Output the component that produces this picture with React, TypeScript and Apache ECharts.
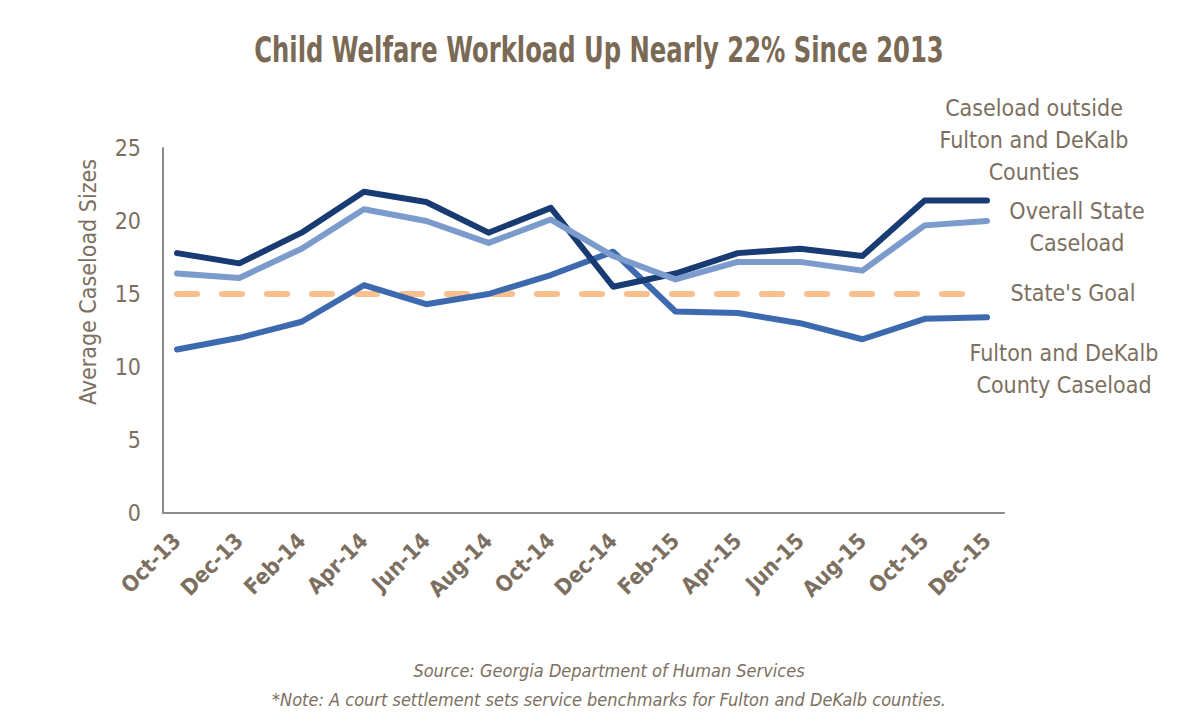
import React, { useEffect, useRef } from "react";
import * as echarts from "echarts";

const categories = ["Oct-13","Dec-13","Feb-14","Apr-14","Jun-14","Aug-14","Oct-14","Dec-14","Feb-15","Apr-15","Jun-15","Aug-15","Oct-15","Dec-15"];
const outsideFultonDeKalb = [17.8, 17.1, 19.2, 22.0, 21.3, 19.2, 20.9, 15.5, 16.4, 17.8, 18.1, 17.6, 21.4, 21.4];
const overallState = [16.4, 16.1, 18.1, 20.8, 20.0, 18.5, 20.1, 17.6, 16.0, 17.2, 17.2, 16.6, 19.7, 20.0];
const fultonDeKalb = [11.2, 12.0, 13.1, 15.6, 14.3, 15.0, 16.3, 17.9, 13.8, 13.7, 13.0, 11.9, 13.3, 13.4];
const stateGoal = [15, 15, 15, 15, 15, 15, 15, 15, 15, 15, 15, 15, 15, 15];
const yTicks = [0, 5, 10, 15, 20, 25];

const FONT = "'DejaVu Sans Condensed', 'Liberation Sans Narrow', 'Roboto', sans-serif";
const TXT = "#7c6f60";

export default function App() {
  const ref = useRef<HTMLDivElement>(null);
  useEffect(() => {
    document.body.style.margin = "0";
    const chart = echarts.init(ref.current!, null, { renderer: "svg" });
    const W = 1194, H = 724;
    const top = 148, bottom = H - 513;
    const lineStyle = (color: string) => ({ color, width: 6, cap: "round", join: "round" });
    const rightLabel = (lines: string[], cx: number, y0: number) =>
      lines.map((t, i) => ({
        type: "text",
        x: cx,
        y: y0 + i * 32,
        style: { text: t, fill: TXT, font: `23px ${FONT}`, textAlign: "center", textVerticalAlign: "middle" },
      }));
    chart.setOption({
      animation: false,
      backgroundColor: "#ffffff",
      textStyle: { fontFamily: FONT },
      grid: [
        { left: 177, right: W - 987, top, bottom },
        { left: 163, right: W - 1004, top, bottom },
      ],
      xAxis: [
        {
          type: "category",
          gridIndex: 0,
          data: categories,
          boundaryGap: false,
          axisLine: { show: false },
          axisTick: { show: false },
          axisLabel: {
            rotate: 45,
            margin: 24,
            color: TXT,
            fontSize: 22,
            fontWeight: "bold",
            fontFamily: FONT,
            interval: 0,
          },
        },
        {
          type: "value",
          gridIndex: 1,
          min: 0,
          max: 1,
          axisLine: { show: true, lineStyle: { color: "#8c8c8c", width: 2 } },
          axisTick: { show: false },
          axisLabel: { show: false },
          splitLine: { show: false },
        },
      ],
      yAxis: [
        {
          type: "value",
          gridIndex: 0,
          min: 0,
          max: 25,
          interval: 5,
          axisLine: { show: false },
          axisTick: { show: false },
          axisLabel: { show: false },
          splitLine: { show: false },
        },
        {
          type: "value",
          gridIndex: 1,
          min: yTicks[0],
          max: yTicks[yTicks.length - 1],
          interval: 5,
          axisLine: { show: true, lineStyle: { color: "#8c8c8c", width: 2 } },
          axisTick: { show: false },
          axisLabel: { color: TXT, fontSize: 23, margin: 22, fontFamily: FONT },
          splitLine: { show: false },
        },
      ],
      series: [
        {
          type: "line",
          name: "State's Goal",
          data: stateGoal,
          symbol: "none",
          lineStyle: { color: "#f9bf8f", width: 6, type: [20, 25], cap: "round" },
          z: 1,
        },
        {
          type: "line",
          name: "Fulton and DeKalb County Caseload",
          data: fultonDeKalb,
          symbol: "none",
          lineStyle: lineStyle("#3d6aae"),
          z: 2,
        },
        {
          type: "line",
          name: "Caseload outside Fulton and DeKalb Counties",
          data: outsideFultonDeKalb,
          symbol: "none",
          lineStyle: lineStyle("#173b72"),
          z: 3,
        },
        {
          type: "line",
          name: "Overall State Caseload",
          data: overallState,
          symbol: "none",
          lineStyle: lineStyle("#7c9bcd"),
          z: 4,
        },
      ],
      graphic: [
        {
          type: "text",
          x: 599,
          y: 50,
          scaleX: 0.75,
          style: {
            text: "Child Welfare Workload Up Nearly 22% Since 2013",
            fill: "#7a6a55",
            font: `bold 36px ${FONT}`,
            textAlign: "center",
            textVerticalAlign: "middle",
          },
        },
        {
          type: "text",
          x: 88,
          y: 282,
          rotation: Math.PI / 2,
          style: {
            text: "Average Caseload Sizes",
            fill: TXT,
            font: `23px ${FONT}`,
            textAlign: "center",
            textVerticalAlign: "middle",
          },
        },
        ...rightLabel(["Caseload outside", "Fulton and DeKalb", "Counties"], 1034, 108),
        ...rightLabel(["Overall State", "Caseload"], 1077, 211),
        ...rightLabel(["State's Goal"], 1073, 293),
        ...rightLabel(["Fulton and DeKalb", "County Caseload"], 1064, 353),
        {
          type: "text",
          x: 609,
          y: 670,
          style: { text: "Source: Georgia Department of Human Services", fill: TXT, font: `italic 18px ${FONT}`, textAlign: "center", textVerticalAlign: "middle" },
        },
        {
          type: "text",
          x: 609,
          y: 699,
          style: { text: "*Note: A court settlement sets service benchmarks for Fulton and DeKalb counties.", fill: TXT, font: `italic 18px ${FONT}`, textAlign: "center", textVerticalAlign: "middle" },
        },
      ],
    });
    return () => chart.dispose();
  }, []);
  return <div ref={ref} style={{ width: 1194, height: 724 }} />;
}
